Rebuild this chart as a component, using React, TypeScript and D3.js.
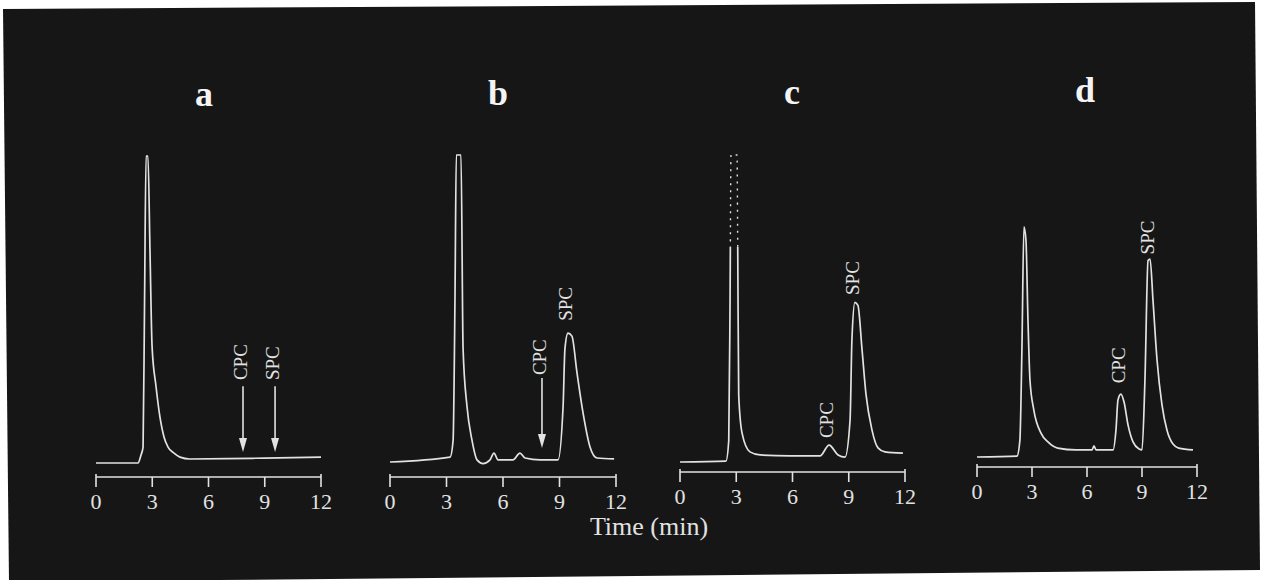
import React from 'react';
import * as d3 from 'd3';

// chromatogram traces: [time (min), detector response (arbitrary units)]
const traceA: [number, number][] = [
  [0, 0], [2.24, 0], [2.4, 2.6], [2.51, 5.2], [2.59, 53], [2.67, 100], [2.77, 100],
  [2.88, 69], [2.99, 38], [3.2, 25], [3.41, 15], [3.63, 8.4], [3.84, 5.2], [4.16, 3.2],
  [4.48, 1.9], [5.0, 1.3], [7.0, 1.4], [9.0, 1.6], [12, 1.9],
];
const traceB: [number, number][] = [
  [0, 0], [3.19, 1.6], [3.35, 7], [3.45, 53], [3.52, 100], [3.77, 100], [3.88, 37],
  [4.09, 18], [4.35, 7.2], [4.62, 0.7], [4.94, -0.5], [5.31, 0.7], [5.52, 2.9], [5.74, 0.7],
  [6.53, 0.7], [6.9, 2.9], [7.17, 1.3], [7.97, 0.7], [8.92, 0.7], [9.19, 18], [9.29, 37],
  [9.45, 42], [9.66, 41], [9.93, 29], [10.25, 16], [10.62, 4.9], [10.99, 1.3], [11.9, 1],
];
const traceC: [number, number][] = [
  [0, 0], [2.45, 0.3], [2.6, 7], [2.67, 53], [2.72, 100], [3.04, 100], [3.08, 69],
  [3.13, 22], [3.31, 9.4], [3.73, 3.3], [4.27, 2.3], [5.87, 2], [7.47, 2], [7.95, 5.5],
  [8.43, 2.3], [8.8, 1.6], [9.07, 13.7], [9.17, 40], [9.33, 52], [9.49, 51], [9.71, 36.5],
  [9.92, 22], [10.24, 10.4], [10.56, 4.6], [10.93, 3.3], [11.89, 2.9],
];
const traceD: [number, number][] = [
  [0, 0], [2.18, 0.3], [2.34, 5.5], [2.45, 35], [2.56, 75], [2.67, 70.7], [2.78, 44.6],
  [2.89, 25], [3.1, 15.3], [3.49, 7.8], [3.87, 4.9], [4.4, 2.9], [5.4, 2.3], [6.27, 2.3],
  [6.38, 3.6], [6.5, 2.3], [7.42, 2.3], [7.58, 8.8], [7.69, 18.6], [7.85, 20.5], [8.02, 17.9],
  [8.24, 10.4], [8.51, 4.9], [8.84, 2.6], [9.0, 2.3], [9.16, 25], [9.33, 64], [9.44, 64.5],
  [9.6, 51], [9.82, 31.6], [10.09, 17], [10.36, 8.8], [10.69, 4.2], [11.0, 2.9], [11.78, 2.3],
];

const panelNames = ['a', 'b', 'c', 'd'];
const timeTicks = [0, 3, 6, 9, 12];

// peak labels: text, retention time, response at the label's lower end, arrow [from, to] or null
type PeakLabel = { text: string; t: number; v: number; arrow: [number, number] | null };
const labelsA: PeakLabel[] = [
  { text: 'CPC', t: 7.84, v: 27, arrow: [25, 3.6] },
  { text: 'SPC', t: 9.55, v: 27, arrow: [25, 3.6] },
];
const labelsB: PeakLabel[] = [
  { text: 'CPC', t: 8.07, v: 28.3, arrow: [27.4, 4.6] },
  { text: 'SPC', t: 9.45, v: 46, arrow: null },
];
const labelsC: PeakLabel[] = [
  { text: 'CPC', t: 7.95, v: 7.8, arrow: null },
  { text: 'SPC', t: 9.33, v: 54.4, arrow: null },
];
const labelsD: PeakLabel[] = [
  { text: 'CPC', t: 7.85, v: 24, arrow: null },
  { text: 'SPC', t: 9.4, v: 66, arrow: null },
];

// layout of each panel on the page
const layout = [
  { x0: 96, x1: 321, base: 463, axis: 477, titleX: 204, titleY: 106 },
  { x0: 390, x1: 616, base: 462, axis: 477, titleX: 498, titleY: 105 },
  { x0: 680, x1: 905, base: 462, axis: 472, titleX: 792, titleY: 104 },
  { x0: 977, x1: 1197, base: 457, axis: 467, titleX: 1085, titleY: 102 },
];

const W = 1262;
const H = 580;
const INK = '#e2e2e2';
const BG = '#161616';
const SERIF = '"Liberation Serif", "DejaVu Serif", serif';

const Panel = ({ idx, trace, labels }: { idx: number; trace: [number, number][]; labels: PeakLabel[] }) => {
  const L = layout[idx];
  const x = d3.scaleLinear().domain([0, 12]).range([L.x0, L.x1]);
  const y = d3.scaleLinear().domain([0, 100]).range([L.base, L.base - 307]);
  const line = d3.line<[number, number]>()
    .x(d => x(d[0]))
    .y(d => y(d[1]))
    .curve(d3.curveMonotoneX);
  const path = line(trace) || '';
  // panel c: the saturated top of the first peak is only faintly reproduced
  const faint = idx === 2;
  const cut = y(70);

  return (
    <g>
      <text x={L.titleX} y={L.titleY} fill="#f4f4f4" fontFamily={SERIF} fontWeight="bold"
        fontSize={36} textAnchor="middle">{panelNames[idx]}</text>

      {faint ? (
        <>
          <clipPath id="lowC"><rect x={0} y={cut} width={W} height={H} /></clipPath>
          <clipPath id="highC"><rect x={0} y={0} width={W} height={cut} /></clipPath>
          <path d={path} fill="none" stroke={INK} strokeWidth={1.7} clipPath="url(#lowC)" />
          <path d={path} fill="none" stroke={INK} strokeWidth={1.4} strokeDasharray="2,5"
            clipPath="url(#highC)" />
        </>
      ) : (
        <path d={path} fill="none" stroke={INK} strokeWidth={1.7} />
      )}

      {labels.map(l => (
        <g key={l.text}>
          <text transform={`translate(${x(l.t)},${y(l.v)}) rotate(-90)`} fill={INK}
            fontFamily={SERIF} fontSize={19} dominantBaseline="middle">{l.text}</text>
          {l.arrow && (
            <>
              <line x1={x(l.t)} x2={x(l.t)} y1={y(l.arrow[0])} y2={y(l.arrow[1]) - 10}
                stroke={INK} strokeWidth={1.6} />
              <path d={`M${x(l.t) - 4},${y(l.arrow[1]) - 14} L${x(l.t) + 4},${y(l.arrow[1]) - 14} L${x(l.t)},${y(l.arrow[1])} Z`}
                fill={INK} />
            </>
          )}
        </g>
      ))}

      <line x1={x(0)} x2={x(12)} y1={L.axis} y2={L.axis} stroke={INK} strokeWidth={1.7} />
      {timeTicks.map(t => (
        <g key={t}>
          <line x1={x(t)} x2={x(t)} y1={t === 0 || t === 12 ? L.axis - 3 : L.axis}
            y2={L.axis + 10} stroke={INK} strokeWidth={1.6} />
          <text x={x(t)} y={L.axis + 32} fill={INK} fontFamily={SERIF} fontSize={22}
            textAnchor="middle">{t}</text>
        </g>
      ))}
    </g>
  );
};

export default function App() {
  const traces = [traceA, traceB, traceC, traceD];
  const labels = [labelsA, labelsB, labelsC, labelsD];
  return (
    <svg width={W} height={H} style={{ position: 'absolute', left: 0, top: 0, background: '#fff' }}>
      <polygon points="3,9 1255,2 1260,570 9,582" fill={BG} />
      {traces.map((tr, i) => (
        <Panel key={i} idx={i} trace={tr} labels={labels[i]} />
      ))}
      <text x={649} y={535} fill={INK} fontFamily={SERIF} fontSize={26}
        textAnchor="middle">Time (min)</text>
    </svg>
  );
}
